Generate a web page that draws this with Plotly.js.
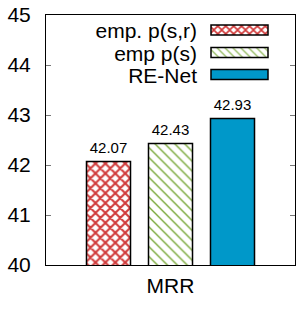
<!DOCTYPE html>
<html>
<head>
<meta charset="utf-8">
<script src="https://cdn.plot.ly/plotly-3.0.1.min.js"></script>
<style>html,body{margin:0;padding:0;background:#fff;}#chart{width:307px;height:309px;}</style>
</head>
<body>
<div id="chart"></div>
<script>
// ---- data ----
const categories = ["MRR"];
const seriesNames = ["emp. p(s,r)", "emp p(s)", "RE-Net"];
const empPsr = [42.07];
const empPs = [42.43];
const reNet = [42.93];
const yTickVals = [40, 41, 42, 43, 44, 45];

const FONT = "Liberation Sans, Arial, Helvetica, sans-serif";

const traces = [
  {
    type: "bar", name: seriesNames[0], x: categories, y: empPsr,
    marker: {color: "#ffffff", line: {color: "#000", width: 1.5},
      pattern: {shape: "x", fgcolor: "#d03a3a", bgcolor: "#ffffff", size: 7, solidity: 0.5}},
  },
  {
    type: "bar", name: seriesNames[1], x: categories, y: empPs,
    marker: {color: "#ffffff", line: {color: "#000", width: 1.5},
      pattern: {shape: "\\", fgcolor: "#78a838", bgcolor: "#ffffff", size: 7, solidity: 0.2}},
  },
  {
    type: "bar", name: seriesNames[2], x: categories, y: reNet,
    marker: {color: "#0098c9", line: {color: "#000", width: 1.5}},
  }
];
traces.forEach(t => {
  t.texttemplate = "%{y:.2f}";
  t.textposition = "outside";
  t.textfont = {size: 15, color: "#000", family: FONT};
  t.constraintext = "none";
  t.cliponaxis = false;
  t.hoverinfo = "skip";
});

const layout = {
  width: 307, height: 309,
  margin: {l: 46, r: 12, t: 15, b: 44, pad: 0},
  paper_bgcolor: "#fff", plot_bgcolor: "#fff",
  font: {family: FONT, size: 21, color: "#000"},
  barmode: "group", bargap: 0.253, bargroupgap: 0.29,
  showlegend: true,
  legend: {x: 0.1, y: 0.98, xanchor: "left", yanchor: "top", bgcolor: "rgba(0,0,0,0)",
    font: {size: 21, family: FONT, color: "#000"}, traceorder: "normal"},
  xaxis: {type: "category", showline: true, linecolor: "#000", linewidth: 1, mirror: true,
    ticks: "", showgrid: false, zeroline: false, tickfont: {size: 21}, ticklabelstandoff: 2,
    fixedrange: true},
  yaxis: {range: [40, 45], tickvals: yTickVals, showline: true, linecolor: "#000", linewidth: 1,
    mirror: "allticks", ticks: "inside", ticklen: 5, tickcolor: "#777", tickwidth: 1,
    showgrid: false, zeroline: false, tickfont: {size: 21}, ticklabelstandoff: 10,
    fixedrange: true}
};

function rearrange(gd) {
  try {
    // lift the value labels a little above the bars
    gd.querySelectorAll("text.bartext").forEach(t => {
      const tr = t.getAttribute("transform") || "";
      t.setAttribute("transform", "translate(0,-3) " + tr);
    });
    // legend: text on the left (right-aligned), wide swatch on the right
    const rowY = [30, 52.5, 74.5];
    const textEnd = 197, swL = 211, swR = 268, swH = 10;
    const sb = gd.querySelector(".legend .scrollbox");
    if (sb) sb.removeAttribute("clip-path");
    const bg = gd.querySelector(".legend rect.bg");
    if (bg) bg.setAttribute("fill-opacity", 0);
    const items = gd.querySelectorAll(".legend g.traces");
    items.forEach((g, i) => {
      const p = g.parentNode.getScreenCTM();
      g.setAttribute("transform", "translate(" + (-p.e) + "," + (rowY[i] - p.f) + ")");
      const txt = g.querySelector("text.legendtext");
      if (txt) {
        const c = txt.parentNode.getScreenCTM();
        txt.setAttribute("text-anchor", "end");
        txt.setAttribute("x", textEnd - c.e);
        txt.querySelectorAll("tspan").forEach(ts => { if (ts.hasAttribute("x")) ts.setAttribute("x", textEnd - c.e); });
      }
      const path = g.querySelector("path.legendbar") || g.querySelector(".legendpoints path");
      if (path) {
        path.removeAttribute("transform");
        const c = path.parentNode.getScreenCTM();
        const x0 = swL - c.e, x1 = swR - c.e, y0 = rowY[i] - swH / 2 - c.f, y1 = rowY[i] + swH / 2 - c.f;
        path.setAttribute("d", "M" + x1 + "," + y1 + "H" + x0 + "V" + y0 + "H" + x1 + "Z");
        path.style.strokeWidth = "1.5px";
      }
      const tog = g.querySelector("rect.legendtoggle");
      if (tog) tog.style.display = "none";
    });
  } catch (e) { console.error(e); }
}

Plotly.newPlot("chart", traces, layout, {staticPlot: true, displayModeBar: false})
  .then(gd => rearrange(gd));
</script>
</body>
</html>
